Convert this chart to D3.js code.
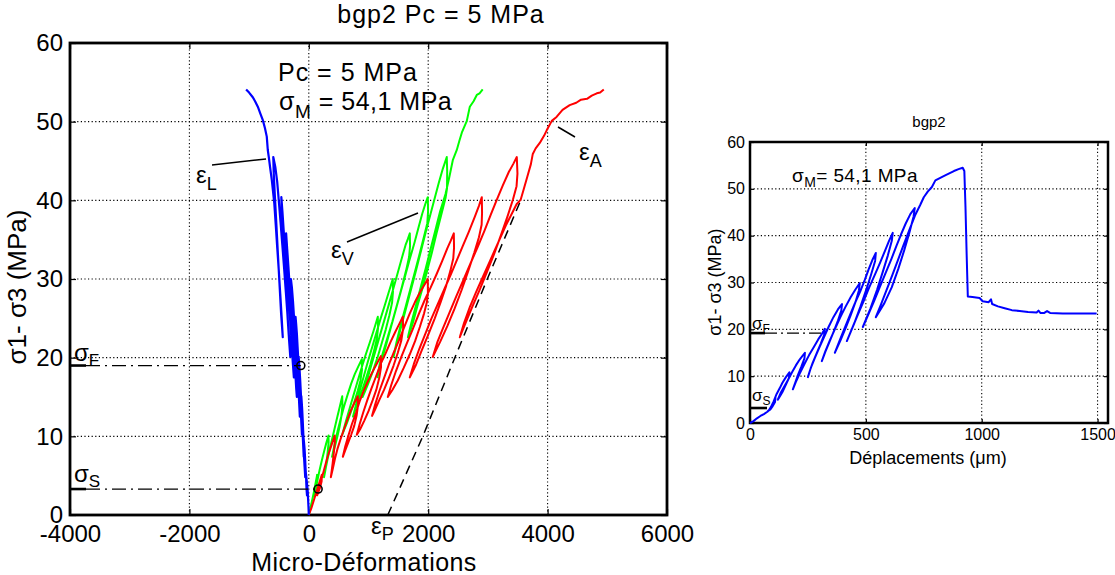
<!DOCTYPE html>
<html><head><meta charset="utf-8">
<script src="https://cdn.jsdelivr.net/npm/d3@7"></script>
<style>
body{margin:0;background:#fff}
svg{display:block}
text{font-family:"Liberation Sans",Arial,Helvetica,sans-serif;fill:#000}
</style>
</head><body>
<svg id="c" width="1115" height="575"></svg>
<script>
// ---------- data ----------
const mainXTicks = [-4000, -2000, 0, 2000, 4000, 6000];
const mainYTicks = [0, 10, 20, 30, 40, 50, 60];
const rightXTicks = [0, 500, 1000, 1500];
const rightYTicks = [0, 10, 20, 30, 40, 50, 60];

// axial strain eps_A (red)  [micro-def, MPa]
const epsA = [[0,0],[40,0.8],[90,2],[130,3],[180,4.2],[218,5.1],
 [215,4.3],[190,3.5],[160,2.9],[140,2.5],
 [175,3.4],[215,4.6],[250,5.6],[300,7],[340,8],[390,9.1],[435,10.1],
 [437,9.2],[420,8],[400,6.6],[385,5.7],[369,4.8],
 [400,5.8],[440,7.2],[480,8.4],[530,9.6],[590,10.9],[650,12.2],[700,13.2],[760,14.2],[820,15.1],
 [825,14],[800,12.6],[760,11.3],[710,10.2],[660,9.2],[610,8.2],[570,7.4],
 [610,8.7],[660,10],[720,11.5],[790,13],[850,14.4],[920,15.8],[990,17],[1060,18.1],[1130,19.1],[1206,20.2],
 [1210,18.8],[1180,17.4],[1130,15.9],[1070,14.6],[1000,13.2],[930,12],[860,10.9],[804,10.2],
 [850,11.5],[910,13],[980,14.6],[1050,16.1],[1130,17.7],[1210,19.3],[1290,20.6],[1370,22],[1450,23.3],[1510,24.2],[1575,25.2],
 [1580,23.7],[1550,22.2],[1490,20.6],[1420,19],[1340,17.4],[1260,15.9],[1180,14.6],[1110,13.4],[1060,12.6],
 [1110,14],[1180,15.7],[1260,17.4],[1340,19.1],[1420,20.6],[1510,22.2],[1600,23.9],[1690,25.6],[1780,27.1],[1870,28.4],[1940,29.3],[1993,30],
 [1995,28.3],[1980,27.1],[1930,25.6],[1860,23.9],[1780,22.1],[1690,20.4],[1590,18.7],[1490,17.1],[1400,15.9],[1323,15],
 [1380,16.5],[1460,18.3],[1550,20.1],[1640,21.8],[1740,23.6],[1840,25.5],[1940,27.3],[2040,28.9],[2140,30.6],[2230,32.2],[2320,33.9],[2380,34.9],[2429,35.8],
 [2433,34],[2420,32.6],[2370,31],[2300,29.1],[2210,27.1],[2110,25],[2000,22.9],[1890,20.9],[1790,19],[1692,17.5],
 [1760,19.2],[1850,21.1],[1950,23],[2050,24.9],[2160,26.8],[2270,28.7],[2380,30.6],[2480,32.4],[2580,34.2],[2680,36],[2780,37.9],[2850,39.3],[2898,40.4],
 [2902,38.4],[2895,36.9],[2850,35.3],[2770,33.3],[2670,31],[2560,28.6],[2440,26.2],[2320,24],[2200,22],[2077,20.1],
 [2150,21.9],[2250,23.8],[2360,25.8],[2470,27.8],[2590,29.9],[2710,32],[2830,34.1],[2940,36.1],[3050,38.2],[3150,40.1],[3250,41.9],[3350,43.6],[3430,44.7],[3484,45.5],
 [3495,43.4],[3480,41.8],[3420,40.1],[3330,38],[3220,35.6],[3100,33.1],[2980,30.8],[2860,28.6],[2740,26.5],[2630,24.5],[2529,22.6],
 [2600,24.4],[2700,26.5],[2800,28.3],[2900,30],[3000,31.7],[3100,33.4],[3200,35.1],[3300,36.8],[3400,38.3],[3480,39.5],[3550,40.1],[3600,41.4],[3660,43],[3720,44.6],[3752,45.9],
 [3800,46.6],[3869,47.3],[3940,48.2],[3985,48.9],[4070,50.1],[4150,50.6],[4250,51.5],[4370,52.1],[4480,52.4],[4560,52.8],[4660,52.9],[4740,53.3],[4824,53.6],[4880,53.7],[4941,54.1]];

// volumetric strain eps_V (green)
const epsV = [[0,0],[30,1],[60,2],[90,3.1],[115,4.1],[140,5.1],
 [138,4.3],[120,3.4],[105,2.9],[95,2.5],
 [120,3.4],[150,4.6],[180,5.7],[220,7],[260,8.2],[295,9.2],[330,10.1],
 [332,9.2],[315,7.9],[295,6.6],[275,5.6],[255,4.8],
 [285,6],[320,7.3],[355,8.5],[395,9.8],[435,11.1],[475,12.4],[520,13.8],[560,15.1],
 [563,13.9],[545,12.5],[515,11.2],[480,10],[440,8.8],[410,8],[390,7.4],
 [430,8.9],[480,10.6],[530,12.1],[590,13.8],[650,15.3],[710,16.7],[770,17.9],[830,18.9],[888,19.8],
 [890,18.4],[865,17.1],[820,15.8],[760,14.3],[700,13],[640,11.7],[590,10.8],[560,10.2],
 [610,11.6],[670,13.2],[740,15],[810,16.8],[880,18.6],[950,20.3],[1020,21.9],[1080,23.3],[1125,24.4],[1156,25.2],
 [1160,23.8],[1140,22.4],[1090,20.8],[1030,19.1],[960,17.4],[890,15.8],[820,14.3],[770,13.2],[740,12.5],
 [790,14],[850,15.7],[920,17.6],[990,19.5],[1060,21.3],[1130,23.1],[1200,24.9],[1270,26.6],[1330,28.1],[1375,29.2],[1407,30],
 [1410,28.4],[1395,27],[1350,25.4],[1290,23.6],[1220,21.8],[1150,20],[1070,18.2],[990,16.6],[940,15.7],[900,15],
 [960,16.7],[1030,18.6],[1110,20.7],[1190,22.8],[1270,24.9],[1350,27],[1420,28.9],[1490,30.8],[1560,32.7],[1620,34.3],[1660,35.1],[1692,35.8],
 [1696,34.2],[1680,32.8],[1630,31.1],[1560,29],[1480,26.8],[1400,24.6],[1320,22.6],[1240,20.6],[1190,19.3],[1150,17.5],
 [1210,19.4],[1290,21.5],[1370,23.7],[1450,25.9],[1530,28.1],[1610,30.3],[1690,32.5],[1770,34.6],[1840,36.6],[1900,38.3],[1950,39.5],[1993,40.4],
 [1998,38.6],[1985,37.1],[1930,35.4],[1860,33.3],[1780,31],[1700,28.7],[1620,26.4],[1540,24.2],[1470,22],[1420,20.1],
 [1480,22],[1560,24.3],[1640,26.6],[1720,28.9],[1800,31.2],[1880,33.6],[1960,36],[2040,38.3],[2110,40.3],[2180,42.3],[2240,43.9],[2280,44.8],[2311,45.5],
 [2318,43.7],[2315,41.5],[2290,40.3],[2220,38.2],[2140,35.8],[2060,33.3],[1980,31],[1900,28.7],[1820,26.6],[1750,24.6],[1700,23.4],[1660,22.6],
 [1720,24.5],[1800,26.8],[1880,29.1],[1960,31.4],[2040,33.8],[2120,36.2],[2200,38.6],[2290,40.8],[2350,42.8],[2412,45.1],[2479,46.4],[2520,47.5],[2563,48.6],[2647,50.1],[2697,51.9],[2760,52.6],[2814,53.4],[2860,53.6],[2913,54.1]];

// lateral strain eps_L (blue)
const epsL = [[0,0],[-5,1],[-12,2],[-18,3],[-30,4],[-45,5.1],
 [-43,4.2],[-38,3.3],[-30,2.5],
 [-36,3.6],[-45,4.8],[-55,6],[-62,7.2],[-70,8.3],[-80,9.2],[-92,10.1],
 [-90,9.1],[-82,7.6],[-70,6.1],[-60,4.8],
 [-68,6.2],[-78,7.8],[-86,9.3],[-95,10.8],[-103,12.2],[-112,13.6],[-125,15.1],
 [-122,14],[-112,12.3],[-100,10.5],[-92,9],[-85,7.4],
 [-95,9],[-105,10.7],[-115,12.4],[-125,14.2],[-136,15.9],[-146,17.4],[-158,18.9],[-170,20.1],
 [-166,18.9],[-155,17.1],[-145,15.2],[-135,13.4],[-125,11.7],[-115,10.2],
 [-125,12],[-137,13.9],[-150,15.8],[-162,17.7],[-175,19.6],[-188,21.4],[-200,23.1],[-212,24.3],[-222,25.2],
 [-218,23.8],[-205,21.6],[-192,19.4],[-180,17.3],[-168,15.2],[-158,13.7],[-150,12.5],
 [-162,14.4],[-178,16.5],[-194,18.6],[-212,20.9],[-230,23.1],[-248,25.2],[-265,27.2],[-283,28.9],[-300,30],
 [-296,28.5],[-282,26.4],[-266,24.1],[-250,21.7],[-235,19.5],[-220,17.3],[-210,16],[-200,15],
 [-216,17.2],[-236,19.6],[-256,22],[-278,24.4],[-300,26.9],[-322,29.3],[-342,31.6],[-362,33.8],[-380,35.8],
 [-376,34.2],[-362,31.9],[-345,29.4],[-326,26.8],[-306,24.2],[-288,21.8],[-270,19.6],[-250,17.5],
 [-268,20],[-292,22.6],[-318,25.3],[-345,28.1],[-372,30.9],[-398,33.7],[-422,36.3],[-442,38.6],[-460,40.4],
 [-455,38.6],[-440,36.1],[-420,33.4],[-398,30.6],[-376,27.8],[-354,25],[-332,22.4],[-310,20.1],
 [-330,22.5],[-356,25.3],[-384,28.3],[-413,31.3],[-443,34.3],[-473,37.2],[-503,40],[-530,42.4],[-560,44.2],[-595,45.5],
 [-588,43.6],[-572,41.1],[-552,38.2],[-530,35],[-508,31.8],[-486,28.7],[-464,25.6],[-436,22.6],
 [-455,25.2],[-478,28.1],[-502,31],[-528,33.9],[-553,36.8],[-578,39.6],[-620,42.6],[-650,44.3],[-670,45.5],[-687,46.4],[-704,48.1],[-735,49.2],[-770,50.2],[-810,51],[-854,51.9],[-900,52.6],[-938,53.1],[-1000,53.7],[-1050,54.1]];

// permanent strain eps_P (black dashed)
const epsP = [[1323,0],[1910,10],[2446,20],[2990,30],[3550,40]];

// threshold markers
const sigmaF = [-134, 19.0];
const sigmaS = [156, 3.3];

// right panel: displacement (um) vs deviatoric stress (MPa)
const disp = [[0,0],[15,0.4],[30,1],[45,1.5],[60,1.9],[75,2.4],[90,3.2],[100,4.2],[110,5.4],
 [108,4.5],[98,3.6],[88,2.9],[80,2.6],
 [90,3.4],[102,4.6],[115,6.2],[128,7.4],[140,8.6],[155,9.8],[170,10.8],
 [168,9.6],[155,8.2],[140,6.6],[128,5.6],[120,5],
 [132,6.4],[148,7.8],[165,9.3],[182,10.9],[198,12.3],[215,13.6],[237,15],
 [235,13.8],[222,12.1],[208,10.4],[195,8.6],[185,7.2],
 [198,8.8],[215,10.6],[235,12.6],[255,14.5],[275,16.2],[295,17.9],[310,19],[323,20.1],
 [320,18.8],[305,16.9],[288,14.9],[270,12.8],[258,11.1],[250,9.8],
 [262,11.7],[280,13.9],[300,16.2],[320,18.4],[340,20.6],[360,22.6],[380,24.3],[397,25.4],
 [394,24],[380,21.9],[362,19.6],[343,17.3],[325,15.2],[310,13.2],
 [325,15.3],[345,17.7],[368,20.2],[390,22.6],[412,24.8],[435,26.9],[455,28.5],[474,29.9],
 [470,28.3],[455,25.8],[435,23.1],[413,20.3],[390,17.6],[366,15],
 [385,17.4],[408,20.2],[430,22.9],[452,25.5],[475,28],[495,30.5],[512,32.8],[528,34.8],[543,36.3],
 [540,34.6],[522,31.6],[500,28.2],[477,24.9],[450,21.3],[418,17.5],
 [440,20.1],[465,23.1],[490,26],[515,29],[540,31.8],[562,34.3],[582,36.7],[600,38.9],[616,40.6],
 [612,38.9],[595,35.8],[572,32.1],[548,28.4],[520,24.5],[487,20.5],
 [510,23.1],[535,26],[560,29],[585,32],[610,35],[632,37.8],[652,40.3],[672,42.6],[692,44.6],[711,45.9],
 [706,44.1],[688,40.7],[665,36.8],[640,32.9],[612,29],[580,25.6],[543,22.6],
 [565,25.3],[590,28.5],[615,31.7],[640,35],[665,38.3],[690,41.5],[712,44.3],[735,46.6],[750,48.2],[767,49.4],[785,50.4],[800,51.8],[819,52.3],[840,52.8],[860,53.3],[880,53.8],[900,54.2],[918,54.5],
 [925,53.8],[930,46],[935,36],[940,27],[960,26.9],[991,26.7],[1004,26],[1030,25.8],[1040,26.4],[1045,25.4],[1070,24.9],[1099,24.5],[1130,24.1],[1164,23.9],[1200,23.7],[1237,23.6],[1245,24],[1253,23.5],[1270,23.5],[1282,23.9],[1295,23.5],[1350,23.4],[1420,23.4],[1496,23.4]];
const rightSigmaF = [310, 19.2];
const rightSigmaS = [80, 3.2];

// ---------- drawing ----------
const svg = d3.select("#c");
const FONT = '"Liberation Sans",Arial,Helvetica,sans-serif';

function panel(opt){
  const g = svg.append("g");
  const x = d3.scaleLinear().domain(opt.xd).range(opt.xr);
  const y = d3.scaleLinear().domain(opt.yd).range(opt.yr);
  const gx = opt.xTicks.filter(v => x(v) > opt.xr[0] + 1 && x(v) < opt.xr[1] - 1);
  const gy = opt.yTicks.filter(v => y(v) < opt.yr[0] - 1 && y(v) > opt.yr[1] + 1);
  g.selectAll(".gx").data(gx).join("line")
    .attr("x1", d => x(d)).attr("x2", d => x(d)).attr("y1", opt.yr[0]).attr("y2", opt.yr[1])
    .attr("stroke", "#000").attr("stroke-width", 1.1).attr("stroke-dasharray", "1.2,2.4");
  g.selectAll(".gy").data(gy).join("line")
    .attr("y1", d => y(d)).attr("y2", d => y(d)).attr("x1", opt.xr[0]).attr("x2", opt.xr[1])
    .attr("stroke", "#000").attr("stroke-width", 1.1).attr("stroke-dasharray", "1.2,2.4");
  const tl = opt.tickLen;
  const fmt = d => String(d);
  const ax = g.append("g").attr("transform", `translate(0,${opt.yr[0]})`)
    .call(d3.axisBottom(x).tickValues(opt.xTicks).tickSize(-tl).tickPadding(opt.xPad).tickFormat(fmt));
  const ay = g.append("g").attr("transform", `translate(${opt.xr[0]},0)`)
    .call(d3.axisLeft(y).tickValues(opt.yTicks).tickSize(-tl).tickPadding(opt.yPad).tickFormat(fmt));
  const axT = g.append("g").attr("transform", `translate(0,${opt.yr[1]})`)
    .call(d3.axisTop(x).tickValues(opt.xTicks).tickSize(-tl).tickFormat(""));
  const ayR = g.append("g").attr("transform", `translate(${opt.xr[1]},0)`)
    .call(d3.axisRight(y).tickValues(opt.yTicks).tickSize(-tl).tickFormat(""));
  [ax, ay, axT, ayR].forEach(a => {
    a.select(".domain").remove();
    a.selectAll(".tick line").attr("stroke", "#000").attr("stroke-width", 1.2);
    a.selectAll("text").attr("font-family", FONT).attr("font-size", opt.tickFont).attr("fill", "#000");
  });
  ax.selectAll("text").attr("dy", "0.71em");
  ay.selectAll("text").attr("dy", "0.32em");
  g.append("rect").attr("x", opt.xr[0]).attr("y", opt.yr[1])
    .attr("width", opt.xr[1] - opt.xr[0]).attr("height", opt.yr[0] - opt.yr[1])
    .attr("fill", "none").attr("stroke", "#000").attr("stroke-width", opt.boxW);
  return {g, x, y};
}

const M = panel({xd:[-4000,6000], yd:[0,60], xr:[70,667], yr:[515,43],
  xTicks: mainXTicks, yTicks: mainYTicks, tickLen: 6, tickFont: 24, xPad: 10, yPad: 7, boxW: 2.8});
const R = panel({xd:[0,1545], yd:[0,60], xr:[750,1108], yr:[423,142],
  xTicks: rightXTicks, yTicks: rightYTicks, tickLen: 4, tickFont: 16, xPad: 6, yPad: 5, boxW: 2.5});

function drawLine(P, data, color, w, dash){
  const line = d3.line().x(d => P.x(d[0])).y(d => P.y(d[1]));
  const p = P.g.append("path").datum(data).attr("d", line)
    .attr("fill", "none").attr("stroke", color).attr("stroke-width", w)
    .attr("stroke-linejoin", "round");
  if (dash) p.attr("stroke-dasharray", dash);
  return p;
}

drawLine(M, epsP, "#000", 1.5, "9,6");
drawLine(M, epsV, "#00ff00", 2);
drawLine(M, epsA, "#ff0000", 2);
drawLine(M, epsL, "#0000ff", 2.2);

function threshold(P, pt, thickLen, dash){
  const y0 = P.y(pt[1]);
  const x0 = P.x.range()[0];
  P.g.append("line").attr("x1", x0).attr("x2", x0 + thickLen).attr("y1", y0).attr("y2", y0)
    .attr("stroke", "#000").attr("stroke-width", 2.6);
  P.g.append("line").attr("x1", x0 + thickLen).attr("x2", P.x(pt[0])).attr("y1", y0).attr("y2", y0)
    .attr("stroke", "#000").attr("stroke-width", 1.3).attr("stroke-dasharray", dash);
}
threshold(M, sigmaF, 16, "14,5,2,5");
threshold(M, sigmaS, 16, "14,5,2,5");
[sigmaF, sigmaS].forEach(p => {
  M.g.append("circle").attr("cx", M.x(p[0])).attr("cy", M.y(p[1])).attr("r", 4)
    .attr("fill", "none").attr("stroke", "#000").attr("stroke-width", 1.6);
});

threshold(R, rightSigmaF, 15, "12,4,2,4");
R.g.append("line").attr("x1", 750).attr("x2", 767).attr("y1", R.y(rightSigmaS[1])).attr("y2", R.y(rightSigmaS[1]))
  .attr("stroke", "#000").attr("stroke-width", 2.6);
drawLine(R, disp, "#0000ff", 2);

// ---------- text ----------
function txt(x, y, s, size, anchor, ls){
  const t = svg.append("text").attr("x", x).attr("y", y).attr("font-size", size)
    .attr("text-anchor", anchor || "start").text(s);
  if (ls) t.attr("letter-spacing", ls);
  return t;
}
function sub(x, y, main, subs, size, subSize, subDy, rest, ls){
  const t = svg.append("text").attr("x", x).attr("y", y).attr("font-size", size);
  if (ls) t.attr("letter-spacing", ls);
  t.append("tspan").text(main);
  t.append("tspan").attr("font-size", subSize).attr("dy", subDy).text(subs);
  if (rest) t.append("tspan").attr("dy", -subDy).text(rest);
  return t;
}

txt(441, 23, "bgp2 Pc = 5 MPa", 25, "middle", 1);
txt(278, 81, "Pc = 5 MPa", 25, "start", 1);
sub(279, 110, "σ", "M", 25, 19, 8, " = 54,1 MPa", 0.5);
txt(364, 571, "Micro-Déformations", 25, "middle", 0.4);
svg.append("text").attr("transform", "translate(26,287) rotate(-90)")
  .attr("text-anchor", "middle").attr("font-size", 26).text("σ1- σ3 (MPa)");

sub(196, 183, "ε", "L", 24, 18, 7);
svg.append("line").attr("x1", 212).attr("y1", 165).attr("x2", 266).attr("y2", 159).attr("stroke", "#000").attr("stroke-width", 1.5);
sub(331, 258, "ε", "V", 24, 18, 7);
svg.append("line").attr("x1", 347).attr("y1", 242).attr("x2", 418).attr("y2", 213).attr("stroke", "#000").attr("stroke-width", 1.5);
sub(579, 160, "ε", "A", 24, 18, 7);
svg.append("line").attr("x1", 558).attr("y1", 127).attr("x2", 575).attr("y2", 137).attr("stroke", "#000").attr("stroke-width", 1.5);
sub(371, 534, "ε", "P", 24, 18, 6);

sub(74, 361, "σ", "F", 24, 17, 5);
sub(74, 482, "σ", "S", 24, 17, 5);

// right panel texts
txt(929, 127, "bgp2", 15, "middle");
sub(792, 182, "σ", "M", 19, 14, 5, "= 54,1 MPa", 0.4);
txt(928, 464, "Déplacements (μm)", 18, "middle");
svg.append("text").attr("transform", "translate(721,282) rotate(-90)")
  .attr("text-anchor", "middle").attr("font-size", 18).text("σ1- σ3 (MPa)");
sub(752, 329, "σ", "F", 17, 12, 4);
sub(752, 401, "σ", "S", 17, 12, 4);
</script>
</body></html>
